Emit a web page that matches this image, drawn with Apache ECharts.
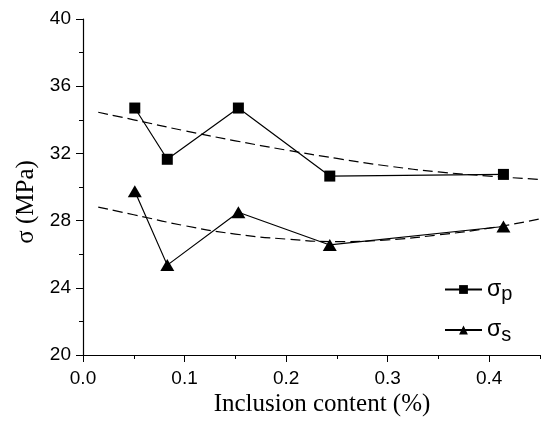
<!DOCTYPE html>
<html>
<head>
<meta charset="utf-8">
<script src="https://cdn.jsdelivr.net/npm/echarts@6/dist/echarts.min.js"></script>
<style>
html,body{margin:0;padding:0;background:#fff;}
#chart{width:542px;height:429px;}
</style>
</head>
<body>
<div id="chart"></div>
<script>
// Measured data
const xP = [0.051, 0.083, 0.153, 0.243, 0.414];
const sigmaP = [34.7, 31.65, 34.7, 30.65, 30.75];
const xS = [0.051, 0.083, 0.153, 0.243, 0.414];
const sigmaS = [29.75, 25.35, 28.5, 26.55, 27.65];
// Dashed trend curves
const fitX = [0.015, 0.05, 0.1, 0.15, 0.2, 0.25, 0.3, 0.35, 0.4, 0.45];
const fitP = [34.45, 34.0, 33.35, 32.75, 32.2, 31.7, 31.25, 30.9, 30.65, 30.45];
const fitS = [28.8, 28.35, 27.7, 27.2, 26.9, 26.75, 26.85, 27.15, 27.55, 28.1];
// Axis ticks
const xMajorTicks = [0, 0.1, 0.2, 0.3, 0.4];
const xMinorTicks = [0.05, 0.15, 0.25, 0.35, 0.45];
const yTicks = [20, 24, 28, 32, 36, 40];

const pairs = (xs, ys) => xs.map((x, i) => [x, ys[i]]);

const chart = echarts.init(document.getElementById('chart'));
const black = '#000';
chart.setOption({
  animation: false,
  backgroundColor: '#fff',
  grid: {left: 83, top: 19, right: 2, bottom: 74, containLabel: false, outerBoundsMode: 'none'},
  xAxis: [
    {
      type: 'value', position: 'bottom', min: 0, max: 0.45, interval: 0.05,
      axisLine: {show: true, lineStyle: {color: black, width: 1.2}},
      axisTick: {show: true, length: 4, inside: false, customValues: xMinorTicks, lineStyle: {color: black}},
      axisLabel: {show: false},
      splitLine: {show: false},
      name: 'Inclusion content (%)', nameLocation: 'middle', nameGap: 37,
      nameTextStyle: {fontFamily: 'Liberation Serif', fontSize: 25, color: black, padding: [0, 0, 0, 21]}
    },
    {
      type: 'value', position: 'bottom', min: 0, max: 0.45, interval: 0.05,
      axisLine: {show: false, onZero: false},
      axisTick: {show: true, length: 7, customValues: xMajorTicks, lineStyle: {color: black}},
      axisLabel: {show: true, customValues: xMajorTicks, margin: 14, fontFamily: 'Liberation Sans', fontSize: 19, color: black,
        formatter: v => v.toFixed(1)},
      splitLine: {show: false}
    }
  ],
  yAxis: {
    type: 'value', min: 20, max: 40, interval: 4,
    axisLine: {show: true, lineStyle: {color: black, width: 1.2}},
    axisTick: {show: true, length: 7, lineStyle: {color: black}},
    minorTick: {show: true, splitNumber: 2, length: 4, lineStyle: {color: black}},
    axisLabel: {margin: 12, fontFamily: 'Liberation Sans', fontSize: 19, color: black,
      customValues: yTicks},
    splitLine: {show: false},
    name: 'σ (MPa)', nameLocation: 'middle', nameGap: 44, nameRotate: 90,
    nameTextStyle: {fontFamily: 'Liberation Serif', fontSize: 25, color: black, padding: [0, 30, 0, 0]}
  },
  legend: {
    orient: 'vertical', left: 439, top: 273, itemGap: 14, itemWidth: 37, itemHeight: 11,
    data: ['p', 's'],
    formatter: n => '{a|σ}{b|' + n + '}',
    textStyle: {
      color: black,
      rich: {
        a: {fontFamily: 'Liberation Sans', fontSize: 23, color: black},
        b: {fontFamily: 'Liberation Sans', fontSize: 20, color: black, padding: [10, 0, 0, 0]}
      }
    }
  },
  series: [
    {
      name: 'p', type: 'line', data: pairs(xP, sigmaP),
      symbol: 'rect', symbolSize: 11,
      itemStyle: {color: black}, lineStyle: {color: black, width: 1.2}, z: 3
    },
    {
      name: 's', type: 'line', data: pairs(xS, sigmaS),
      symbol: 'triangle', symbolSize: [14, 12],
      itemStyle: {color: black}, lineStyle: {color: black, width: 1.2}, z: 3
    },
    {
      name: 'fitP', type: 'line', data: pairs(fitX, fitP), smooth: true,
      showSymbol: false, symbol: 'none',
      lineStyle: {color: black, width: 1.2, type: [10, 5]}, z: 2
    },
    {
      name: 'fitS', type: 'line', data: pairs(fitX, fitS), smooth: true,
      showSymbol: false, symbol: 'none',
      lineStyle: {color: black, width: 1.2, type: [10, 5]}, z: 2
    }
  ]
});
</script>
</body>
</html>
